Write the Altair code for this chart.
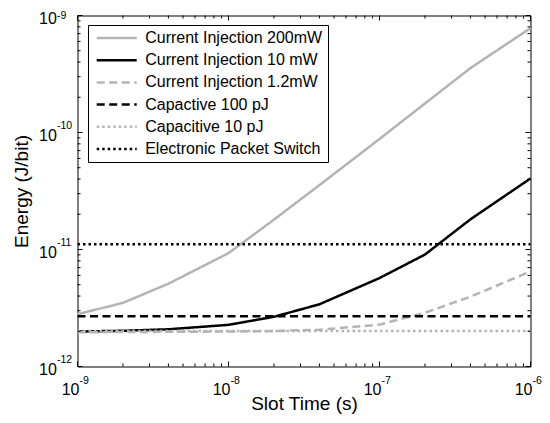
import altair as alt
import pandas as pd

# ---------------- data ----------------
slot_time = [1e-9, 2e-9, 4e-9, 1e-8, 2e-8, 4e-8, 1e-7, 2e-7, 4e-7, 1e-6]
ci_200mw = [2.8e-12, 3.5e-12, 5.1e-12, 9.3e-12, 1.8e-11, 3.55e-11, 8.8e-11, 1.77e-10, 3.55e-10, 7.8e-10]
ci_10mw = [1.99e-12, 2.02e-12, 2.08e-12, 2.27e-12, 2.66e-12, 3.4e-12, 5.7e-12, 9.05e-12, 1.81e-11, 4.05e-11]
ci_1p2mw = [1.96e-12, 1.97e-12, 1.98e-12, 1.99e-12, 2.01e-12, 2.06e-12, 2.28e-12, 2.88e-12, 3.95e-12, 6.5e-12]
cap_100pj = 2.69e-12
cap_10pj = 2.01e-12
eps_switch = 1.11e-11

series_names = [
    "Current Injection 200mW",
    "Current Injection 10 mW",
    "Current Injection 1.2mW",
    "Capactive 100 pJ",
    "Capacitive 10 pJ",
    "Electronic Packet Switch",
]
series_colors = ["#b4b4b4", "#000000", "#b4b4b4", "#000000", "#b4b4b4", "#000000"]
series_dashes = [[1, 0], [1, 0], [8, 4.5], [8, 4.5], [2.5, 3], [2.5, 3]]

x_decades = [1e-9, 1e-8, 1e-7, 1e-6]
x_exponents = ["-9", "-8", "-7", "-6"]
y_decades = [1e-12, 1e-11, 1e-10, 1e-9]
y_exponents = ["-12", "-11", "-10", "-9"]
minor_mantissas = [2, 3, 4, 5, 6, 7, 8, 9]

# ---------------- build tables ----------------
rows = []
for name, vals in zip(series_names[:3], [ci_200mw, ci_10mw, ci_1p2mw]):
    for t, e in zip(slot_time, vals):
        rows.append({"series": name, "t": t, "E": e})
for name, val in zip(series_names[3:], [cap_100pj, cap_10pj, eps_switch]):
    for t in [slot_time[0], slot_time[-1]]:
        rows.append({"series": name, "t": t, "E": val})
df = pd.DataFrame(rows)

x_minor = [m * d for d in x_decades[:-1] for m in minor_mantissas]
y_minor = [m * d for d in y_decades[:-1] for m in minor_mantissas]

W, H = 453, 351
FONT = "Liberation Sans"
xs = alt.Scale(type="log", domain=[1e-9, 1e-6], nice=False)
ys = alt.Scale(type="log", domain=[1e-12, 1e-9], nice=False)

legend = alt.Legend(
    title=None,
    orient="none",
    legendX=10.5,
    legendY=9.5,
    symbolType="stroke",
    symbolSize=1600,
    symbolStrokeWidth=2.5,
    symbolOffset=2.2,
    labelFont=FONT,
    labelFontSize=16,
    labelColor="black",
    labelOffset=7,
    labelLimit=400,
    clipHeight=16,
    rowPadding=6.2,
    padding=5,
    strokeColor="black",
    fillColor="white",
)

axis_common = dict(
    labels=False, ticks=False, domain=False, grid=False,
    titleFont=FONT, titleFontSize=19, titleFontWeight="normal", titleColor="black",
    titleBaseline="alphabetic",
)
x_axis = alt.Axis(title="Slot Time (s)", titlePadding=43, **axis_common)
y_axis = alt.Axis(title="Energy (J/bit)", titlePadding=50.5, **axis_common)

lines = alt.Chart(df).mark_line(strokeWidth=2.5).encode(
    x=alt.X("t:Q", scale=xs, axis=x_axis),
    y=alt.Y("E:Q", scale=ys, axis=y_axis),
    color=alt.Color("series:N", sort=series_names,
                    scale=alt.Scale(domain=series_names, range=series_colors), legend=legend),
    strokeDash=alt.StrokeDash("series:N", sort=series_names,
                              scale=alt.Scale(domain=series_names, range=series_dashes), legend=legend),
)


def xticks(vals, length):
    d = pd.DataFrame({"v": vals})
    base = alt.Chart(d).mark_rule(color="black", strokeWidth=1)
    xe = alt.X("v:Q", scale=xs, axis=x_axis)
    bottom = base.encode(x=xe, y=alt.value(H), y2=alt.value(H - length))
    top = base.encode(x=xe, y=alt.value(0), y2=alt.value(length))
    return [bottom, top]


def yticks(vals, length):
    d = pd.DataFrame({"v": vals})
    base = alt.Chart(d).mark_rule(color="black", strokeWidth=1)
    ye = alt.Y("v:Q", scale=ys, axis=y_axis)
    left = base.encode(y=ye, x=alt.value(0), x2=alt.value(length))
    right = base.encode(y=ye, x=alt.value(W), x2=alt.value(W - length))
    return [left, right]


tick_layers = xticks(x_decades, 5) + xticks(x_minor, 3) + yticks(y_decades, 5) + yticks(y_minor, 3)

xlab = pd.DataFrame({"v": x_decades, "base": ["10"] * 4, "exp": x_exponents})
ylab = pd.DataFrame({"v": y_decades, "base": ["10"] * 4, "exp": y_exponents})

x_base = alt.Chart(xlab).mark_text(align="right", baseline="alphabetic", dx=2,
                                   font=FONT, fontSize=16, color="black").encode(
    x=alt.X("v:Q", scale=xs, axis=x_axis), y=alt.value(H + 28), text="base:N")
x_exp = alt.Chart(xlab).mark_text(align="left", baseline="alphabetic", dx=2,
                                  font=FONT, fontSize=10.5, color="black").encode(
    x=alt.X("v:Q", scale=xs, axis=x_axis), y=alt.value(H + 17), text="exp:N")
y_base = alt.Chart(ylab).mark_text(align="left", baseline="alphabetic", dy=8.5,
                                   font=FONT, fontSize=16, color="black").encode(
    y=alt.Y("v:Q", scale=ys, axis=y_axis), x=alt.value(-38.5), text="base:N")
# exponents of the lower three decades
y_exp = alt.Chart(ylab.iloc[:-1]).mark_text(align="left", baseline="alphabetic", dy=-4,
                                            font=FONT, fontSize=10.5, color="black").encode(
    y=alt.Y("v:Q", scale=ys, axis=y_axis), x=alt.value(-20.5), text="exp:N")
# exponent of the top decade, kept inside the page
y_exp_top = alt.Chart(ylab.iloc[-1:]).mark_text(align="left", baseline="alphabetic", dy=3,
                                                font=FONT, fontSize=10.5, color="black").encode(
    y=alt.Y("v:Q", scale=ys, axis=y_axis), x=alt.value(-20.5), text="exp:N")

chart = alt.layer(lines, *tick_layers, x_base, x_exp, y_base, y_exp, y_exp_top).properties(
    width=W,
    height=H,
    autosize=alt.AutoSizeParams(type="none"),
    padding={"left": 69.5, "top": 7.5, "right": 11.5, "bottom": 48},
    background="white",
).configure_view(stroke="black", strokeWidth=1)

chart.save("out.html", embed_options={"renderer": "svg", "actions": False})
